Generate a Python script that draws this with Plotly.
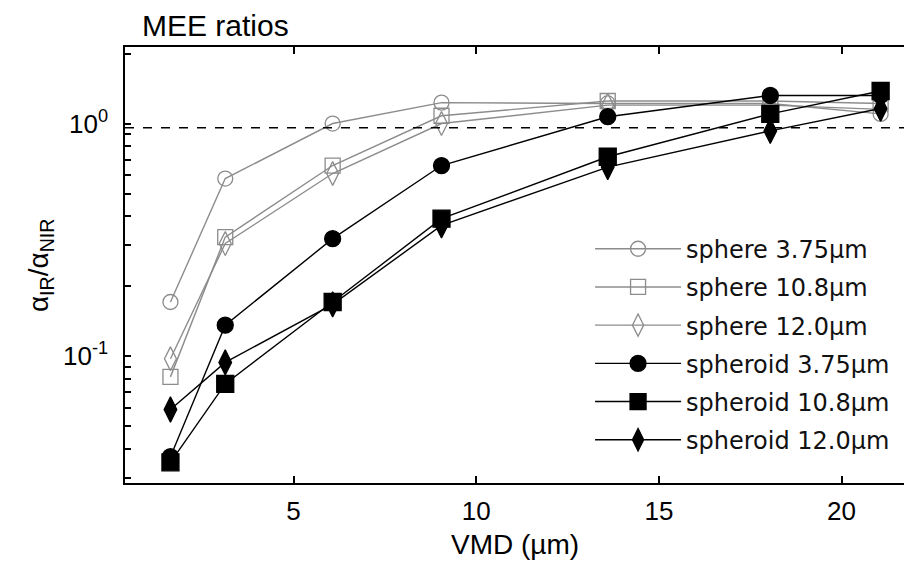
import plotly.graph_objects as go

# ---- data ----
vmd = [1.63, 3.13, 6.07, 9.05, 13.6, 18.05, 21.07]

sphere_375 = [0.171, 0.58, 1.0, 1.23, 1.22, 1.22, 1.10]
sphere_108 = [0.0815, 0.325, 0.66, 1.08, 1.25, 1.25, 1.22]
sphere_120 = [0.0975, 0.305, 0.61, 1.00, 1.20, 1.20, 1.15]
spheroid_375 = [0.037, 0.136, 0.32, 0.66, 1.07, 1.32, 1.32]
spheroid_108 = [0.035, 0.076, 0.171, 0.39, 0.72, 1.10, 1.38]
spheroid_120 = [0.059, 0.094, 0.167, 0.365, 0.65, 0.93, 1.16]

series_names = ["sphere 3.75\u00b5m", "sphere 10.8\u00b5m", "sphere 12.0\u00b5m",
                "spheroid 3.75\u00b5m", "spheroid 10.8\u00b5m", "spheroid 12.0\u00b5m"]
series_values = [sphere_375, sphere_108, sphere_120, spheroid_375, spheroid_108, spheroid_120]

ref_level = 0.96
x_ticks = [5, 10, 15, 20]
y_tickvals = [0.03, 0.04, 0.05, 0.06, 0.07, 0.08, 0.09,
              0.1, 0.2, 0.3, 0.4, 0.5, 0.6, 0.7, 0.8, 0.9, 1, 2]
y_ticktext = ["", "", "", "", "", "", "",
              "10<sup>-1</sup>", "", "", "", "", "", "", "", "", "10<sup>0</sup>", ""]

GRAY = "#8c8c8c"
styles = [
    dict(color=GRAY, symbol="circle-open", size=15),
    dict(color=GRAY, symbol="square-open", size=15),
    dict(color=GRAY, symbol="diamond-tall-open", size=17),
    dict(color="black", symbol="circle", size=16),
    dict(color="black", symbol="square", size=17),
    dict(color="black", symbol="diamond-tall", size=18),
]

fig = go.Figure()
for i, (name, vals, st) in enumerate(zip(series_names, series_values, styles)):
    fig.add_trace(go.Scatter(
        x=vmd, y=vals, name=name, mode="lines+markers",
        legendgroup=f"g{i}",
        line=dict(color=st["color"], width=1.4),
        marker=dict(symbol=st["symbol"], size=st["size"], color=st["color"],
                    line=dict(color=st["color"], width=1.3)),
    ))

fig.add_shape(type="line", xref="paper", yref="y", x0=0, x1=1,
              y0=ref_level, y1=ref_level,
              line=dict(color="black", width=1.5, dash="dash"))

SANS = "Liberation Sans, Arial, sans-serif"
fig.update_layout(
    width=904, height=565,
    margin=dict(l=125, r=0, t=47, b=82),
    paper_bgcolor="white", plot_bgcolor="white",
    font=dict(family=SANS, size=26, color="black"),
    showlegend=True,
    legend=dict(x=0.597, y=0.588, xanchor="left", yanchor="top",
                bgcolor="rgba(0,0,0,0)", borderwidth=0,
                font=dict(family="DejaVu Sans", size=24, color="#111"),
                tracegroupgap=4, itemwidth=86),
    xaxis=dict(range=[0.386, 21.71], tickvals=x_ticks, ticks="inside",
               ticklen=7, tickwidth=1.5, tickcolor="black",
               showline=True, linecolor="black", linewidth=1.5, mirror="ticks",
               showgrid=False, zeroline=False, ticklabelstandoff=4,
               tickfont=dict(family=SANS, size=26)),
    yaxis=dict(type="log", range=[-1.545, 0.329], tickvals=y_tickvals,
               ticktext=y_ticktext, ticks="inside", ticklen=6, tickwidth=1.5,
               tickcolor="black", showline=True, linecolor="black", linewidth=1.5,
               mirror=False, showgrid=False, zeroline=False, ticklabelstandoff=10,
               tickfont=dict(family=SANS, size=26)),
    annotations=[
        dict(text="MEE ratios", xref="paper", yref="paper", x=0.019, y=1.05,
             xanchor="left", yanchor="middle", showarrow=False,
             font=dict(family=SANS, size=30)),
        dict(text="VMD (\u00b5m)", xref="paper", yref="paper", x=0.5, y=-0.142,
             xanchor="center", yanchor="middle", showarrow=False,
             font=dict(family=SANS, size=28)),
        dict(text="\u03b1<sub>IR</sub>/\u03b1<sub>NIR</sub>", xref="paper", yref="paper",
             x=-0.109, y=0.5, xanchor="center", yanchor="middle", textangle=-90,
             showarrow=False, font=dict(family=SANS, size=28)),
    ],
)

fig.write_html("out.html")
